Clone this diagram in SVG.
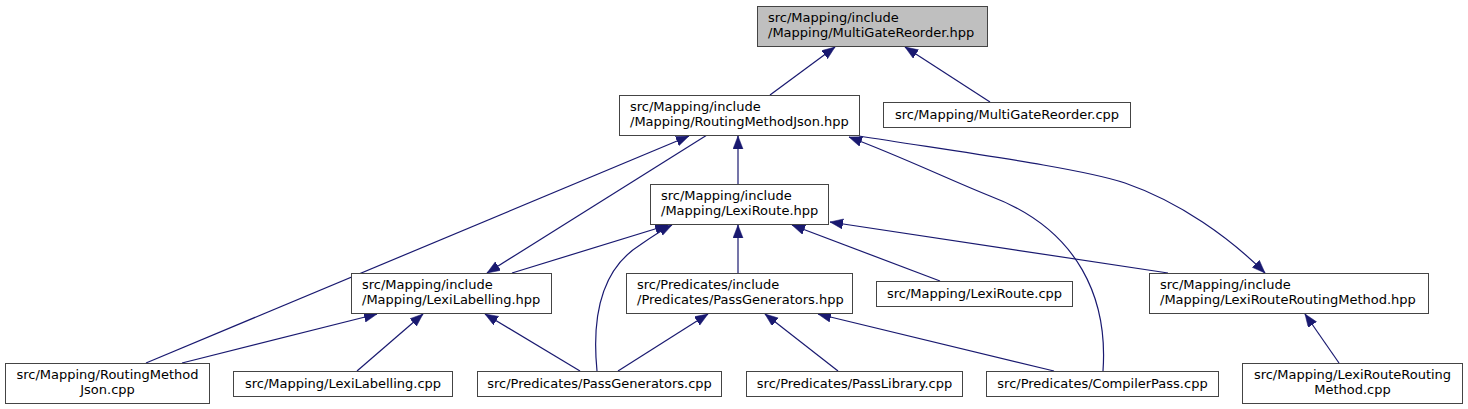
<svg xmlns="http://www.w3.org/2000/svg" width="1468" height="409" viewBox="0 0 1468 409">
<style>
.box{fill:#ffffff;stroke:#444444;stroke-width:1}
.root{fill:#bfbfbf;stroke:#444444;stroke-width:1}
text{font-family:"DejaVu Sans","Liberation Sans",sans-serif;font-size:13px;fill:#000000}
.c{text-anchor:middle}
.e{fill:none;stroke:#191970;stroke-width:1.2;marker-end:url(#ah)}
</style>
<defs>
<marker id="ah" markerUnits="userSpaceOnUse" markerWidth="14" markerHeight="11" refX="13" refY="5" orient="auto">
<path d="M0,0 L13,5 L0,10 z" fill="#191970" stroke="#191970" stroke-width="0.5"/>
</marker>
</defs>
<rect width="1468" height="409" fill="#ffffff"/>
<g id="connectors">
<path class="e" d="M770,95 L835,47"/>
<path class="e" d="M990,102 L905,47"/>
<path class="e" d="M738,184 L738,136"/>
<path class="e" d="M146,363 L689,136"/>
<path class="e" d="M707,135 L487,273"/>
<path class="e" d="M1103,371 C1108,300 1080,230 990,196 C950,180 900,156 849,137"/>
<path class="e" d="M859,136 C960,152 1080,168 1125,183 C1180,202 1230,238 1265,273"/>
<path class="e" d="M512,273 L668,225"/>
<path class="e" d="M597,371 C592,320 600,270 640,245 C650,238 660,231 672,225"/>
<path class="e" d="M738,273 L738,225"/>
<path class="e" d="M940,281 L792,225"/>
<path class="e" d="M1168,273 L830,222"/>
<path class="e" d="M182,363 L377,314"/>
<path class="e" d="M357,371 L423,314"/>
<path class="e" d="M580,371 L485,314"/>
<path class="e" d="M618,371 L708,314"/>
<path class="e" d="M838,371 L765,314"/>
<path class="e" d="M1054,371 L818,314"/>
<path class="e" d="M1339,363 L1305,314"/>
</g>
<g id="node-multigatereorder-hpp">
<rect class="root" x="757.5" y="6.5" width="230" height="40"/>
<text x="768" y="22">src/Mapping/include</text>
<text x="768" y="37">/Mapping/MultiGateReorder.hpp</text>
</g>
<g id="node-routingmethodjson-hpp">
<rect class="box" x="619.5" y="95.5" width="240" height="40"/>
<text x="630" y="111">src/Mapping/include</text>
<text x="630" y="126">/Mapping/RoutingMethodJson.hpp</text>
</g>
<g id="node-multigatereorder-cpp">
<rect class="box" x="883.5" y="102.5" width="247" height="25"/>
<text class="c" x="1007" y="119">src/Mapping/MultiGateReorder.cpp</text>
</g>
<g id="node-lexiroute-hpp">
<rect class="box" x="650.5" y="184.5" width="178" height="40"/>
<text x="661" y="200">src/Mapping/include</text>
<text x="661" y="215">/Mapping/LexiRoute.hpp</text>
</g>
<g id="node-lexilabelling-hpp">
<rect class="box" x="351.5" y="273.5" width="200" height="40"/>
<text x="362" y="289">src/Mapping/include</text>
<text x="362" y="304">/Mapping/LexiLabelling.hpp</text>
</g>
<g id="node-passgenerators-hpp">
<rect class="box" x="626.5" y="273.5" width="226" height="40"/>
<text x="637" y="289">src/Predicates/include</text>
<text x="637" y="304">/Predicates/PassGenerators.hpp</text>
</g>
<g id="node-lexiroute-cpp">
<rect class="box" x="876.5" y="281.5" width="196" height="25"/>
<text class="c" x="974.5" y="298">src/Mapping/LexiRoute.cpp</text>
</g>
<g id="node-lexirouteroutingmethod-hpp">
<rect class="box" x="1149.5" y="273.5" width="279" height="40"/>
<text x="1160" y="289">src/Mapping/include</text>
<text x="1160" y="304">/Mapping/LexiRouteRoutingMethod.hpp</text>
</g>
<g id="node-routingmethodjson-cpp">
<rect class="box" x="5.5" y="363.5" width="204" height="40"/>
<text class="c" x="107.5" y="379">src/Mapping/RoutingMethod</text>
<text class="c" x="107.5" y="394">Json.cpp</text>
</g>
<g id="node-lexilabelling-cpp">
<rect class="box" x="233.5" y="371.5" width="219" height="25"/>
<text class="c" x="343" y="388">src/Mapping/LexiLabelling.cpp</text>
</g>
<g id="node-passgenerators-cpp">
<rect class="box" x="477.5" y="371.5" width="244" height="25"/>
<text class="c" x="599.5" y="388">src/Predicates/PassGenerators.cpp</text>
</g>
<g id="node-passlibrary-cpp">
<rect class="box" x="746.5" y="371.5" width="216" height="25"/>
<text class="c" x="854.5" y="388">src/Predicates/PassLibrary.cpp</text>
</g>
<g id="node-compilerpass-cpp">
<rect class="box" x="986.5" y="371.5" width="232" height="25"/>
<text class="c" x="1102.5" y="388">src/Predicates/CompilerPass.cpp</text>
</g>
<g id="node-lexirouteroutingmethod-cpp">
<rect class="box" x="1242.5" y="363.5" width="220" height="40"/>
<text class="c" x="1352.5" y="379">src/Mapping/LexiRouteRouting</text>
<text class="c" x="1352.5" y="394">Method.cpp</text>
</g>
</svg>
